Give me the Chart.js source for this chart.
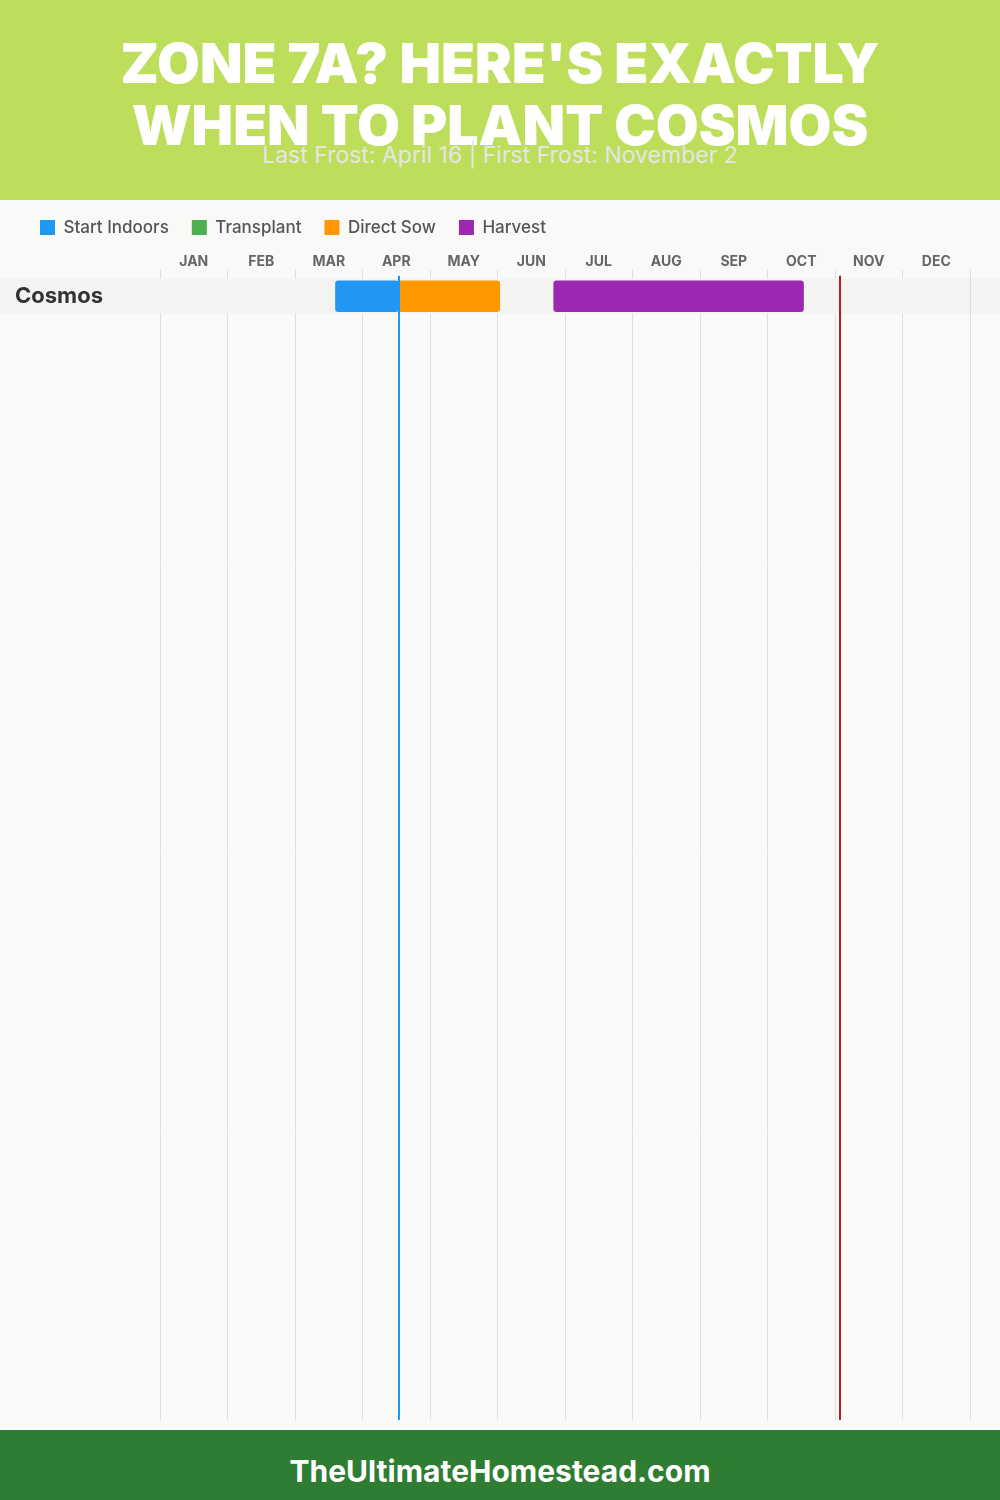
<!DOCTYPE html>
<html><head><meta charset="utf-8">
<script src="https://cdn.jsdelivr.net/npm/chart.js@4.4.0/dist/chart.umd.min.js"></script>
<style>
html,body{margin:0;padding:0;width:1000px;height:1500px;background:#F9F9F7;overflow:hidden;font-family:Inter,'Open Sans',sans-serif}
#hdr{position:absolute;left:0;top:0;width:1000px;height:200px;background:#BCDE5B;z-index:2}
#t{position:absolute;top:32px;left:0;width:100%;text-align:center;color:#fff;font-weight:900;font-size:55.4px;line-height:62px}
#sub{position:absolute;top:141px;left:0;width:100%;text-align:center;color:#E6E6E6;font-size:23px;line-height:28px;font-weight:400}
#ftr{position:absolute;left:0;top:1430px;width:1000px;height:70px;background:#2E7D32;color:#fff;text-align:center;font-weight:700;font-size:30px;line-height:58px;padding-top:12px;box-sizing:border-box;z-index:2}
#wrap{position:absolute;left:0;top:196px;width:1000px;height:1234px}
</style></head>
<body>
<div id="hdr"><div id="t">ZONE 7A? HERE'S EXACTLY<br>WHEN TO PLANT COSMOS</div><div id="sub">Last Frost: April 16 | First Frost: November 2</div></div>
<div id="wrap"><canvas id="c"></canvas></div>
<div id="ftr">TheUltimateHomestead.com</div>
<script>
const months = ['JAN','FEB','MAR','APR','MAY','JUN','JUL','AUG','SEP','OCT','NOV','DEC'];
const crops = ['Cosmos'];
// [month, day] ranges per crop
const startIndoors = [[[3,18],[4,16]]];
const transplant = [null];
const directSow = [[[4,16],[6,1]]];
const harvest = [[[6,25],[10,16]]];
const lastFrost = [4,16];
const firstFrost = [11,2];

function md(p){ return (p[0]-1) + p[1]/30; }
function toData(arr){ return arr.map((r,i)=> r ? {x:[md(r[0]), md(r[1])], y:i} : {x:null, y:i}); }

function drawBands(chart, x0, x1){
  const {ctx, scales:{y}} = chart;
  ctx.save();
  ctx.fillStyle = '#F3F3F2';
  crops.forEach((c,i)=>{
    const t = y.getPixelForValue(i-0.5), b = y.getPixelForValue(i+0.5);
    ctx.fillRect(x0, t, x1-x0, b-t);
  });
  ctx.restore();
}

const linesPlugin = {
  id:'rowsAndFrost',
  afterLayout(chart){ chart.scales.y.left -= 2; },
  beforeDraw(chart){
    drawBands(chart, 0, chart.chartArea.left);
    drawBands(chart, chart.chartArea.right, chart.width);
  },
  beforeDatasetsDraw(chart){
    drawBands(chart, chart.chartArea.left, chart.chartArea.right);
  },
  afterDatasetsDraw(chart){
    const {ctx, chartArea, scales:{x}} = chart;
    ctx.save();
    [[lastFrost,'#2196F3'],[firstFrost,'#B71C1C']].forEach(([d,col])=>{
      const px = Math.round(x.getPixelForValue(md(d)));
      ctx.strokeStyle = col; ctx.lineWidth = 2;
      ctx.beginPath(); ctx.moveTo(px, chartArea.top-3); ctx.lineTo(px, chartArea.bottom); ctx.stroke();
    });
    ctx.restore();
  }
};

const ds = (label, data, color) => ({label, data: toData(data), backgroundColor: color, borderColor: color,
  borderWidth: 0, borderRadius: 3, borderSkipped: false, barThickness: 31, grouped: false});

new Chart(document.getElementById('c'), {
  type: 'bar',
  data: { datasets: [
    ds('Start Indoors', startIndoors, '#2196F3'),
    ds('Transplant', transplant, '#4CAF50'),
    ds('Direct Sow', directSow, '#FF9800'),
    ds('Harvest', harvest, '#9C27B0')
  ]},
  options: {
    indexAxis: 'y',
    responsive: true, maintainAspectRatio: false, animation: false,
    layout: { padding: {left: 17, right: 30, top: 0, bottom: 10} },
    plugins: {
      legend: { position: 'top', align: 'start',
        labels: { boxWidth: 15, boxHeight: 15, padding: 23, color: '#555',
          font: {family: 'Inter', size: 17, weight: '500'} } },
      tooltip: { enabled: false }
    },
    scales: {
      x: { type: 'linear', position: 'top', min: 0, max: 12, offset: false,
        afterBuildTicks: a => { a.ticks = months.map((m,i)=>({value:i})).concat([{value:12}]); },
        afterFit: a => { a.height += 7; },
        ticks: { callback: v => months[v] ?? '', labelOffset: 33.75, padding: 0, maxRotation: 0, autoSkip: false,
          color: '#666', font: {family: 'Inter', size: 14, weight: '700'} },
        grid: { color: '#DEDEDE', lineWidth: 1, tickLength: 9, drawTicks: true, tickColor: '#DEDEDE' },
        border: { display: false }
      },
      y: { type: 'linear', reverse: true, min: -0.5, max: 32.13, offset: false,
        afterBuildTicks: a => { a.ticks = crops.map((c,i)=>({value:i})); },
        afterFit: a => { a.width = 143; a.paddingTop = 0; a.paddingBottom = 0; },
        ticks: { callback: v => crops[v] ?? '', crossAlign: 'far', color: '#333',
          font: {family: 'Inter', size: 22, weight: '700'} },
        grid: { display: false }, border: { display: false }
      }
    }
  },
  plugins: [linesPlugin]
});
</script>
</body></html>
